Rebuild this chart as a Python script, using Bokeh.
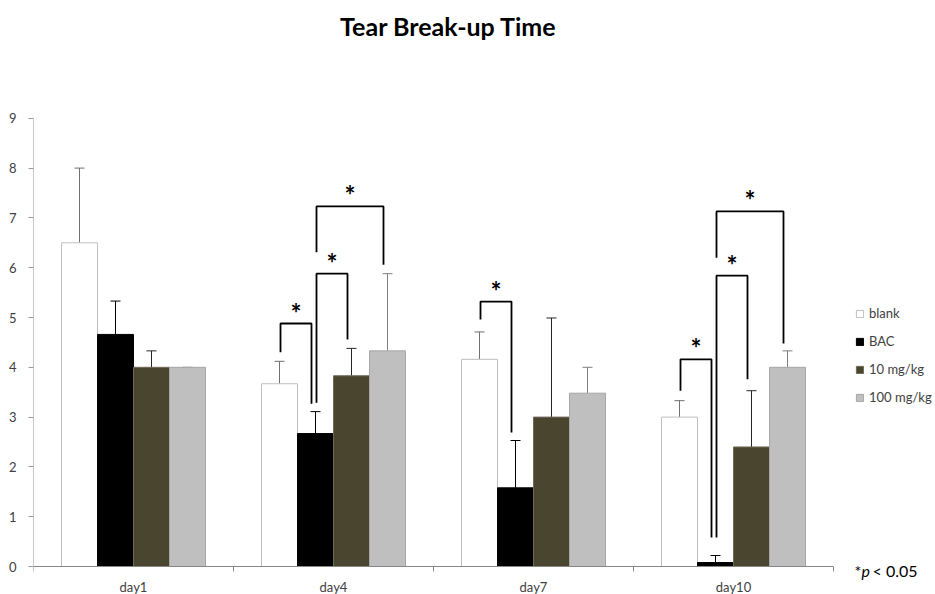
from bokeh.plotting import figure
from bokeh.models import ColumnDataSource, Whisker, TeeHead, Legend, LegendItem, FixedTicker, Label
from bokeh.core.properties import value
from bokeh.embed import file_html
from bokeh.resources import INLINE

days = ["day1", "day4", "day7", "day10"]
series = ["blank", "BAC", "10 mg/kg", "100 mg/kg"]
means = {
    "blank":     [6.50, 3.67, 4.16, 3.00],
    "BAC":       [4.66, 2.67, 1.58, 0.08],
    "10 mg/kg":  [4.00, 3.83, 3.00, 2.40],
    "100 mg/kg": [4.00, 4.33, 3.48, 4.00],
}
err_top = {
    "blank":     [8.00, 4.12, 4.71, 3.33],
    "BAC":       [5.33, 3.11, 2.53, 0.22],
    "10 mg/kg":  [4.33, 4.38, 4.99, 3.53],
    "100 mg/kg": [4.00, 5.88, 4.00, 4.33],
}
# significance brackets: (day index, left bar, right bar, top, left foot, right foot)
brackets = [
    (1, 0, 1, 4.88, 4.30, 3.27),
    (1, 1, 2, 5.88, 3.29, 4.56),
    (1, 1, 3, 7.23, 6.31, 6.06),
    (2, 0, 1, 5.32, 4.96, 2.69),
    (3, 0, 1, 4.16, 3.53, 0.58),
    (3, 1, 2, 5.84, 0.58, 3.76),
    (3, 1, 3, 7.13, 6.20, 4.48),
]
y_ticks = list(range(10))

fills = ["#ffffff", "#000000", "#4a452e", "#bfbfbf"]
outlines = ["#bfbfbf", "#000000", "#6f6a58", "#a6a6a6"]
errc = ["#6f6f6f", "#000000", "#262626", "#7f7f7f"]
bar_w = 0.18
offsets = [-0.27, -0.09, 0.09, 0.27]
FONT = "Lato"

# layout: frame fills the figure (except left axis border); scales chosen to match reference
W, H, LEFT = 934, 594, 33
PX_X, PX_Y = 200.0, 49.8          # pixels per data unit
BELOW0 = 28                        # pixels of frame below y = 0
x_end = (W - LEFT) / PX_X
y_start = -BELOW0 / PX_Y
y_end = (H - BELOW0) / PX_Y

p = figure(width=W, height=H, x_range=(0, x_end), y_range=(y_start, y_end),
           output_backend="svg", toolbar_location=None,
           min_border_left=LEFT, min_border_top=0, min_border_bottom=0,
           min_border_right=0)
p.outline_line_color = None
p.xgrid.visible = False
p.ygrid.visible = False

items = []
for i, s in enumerate(series):
    xs = [g + 0.5 + offsets[i] for g in range(len(days))]
    src = ColumnDataSource(dict(x=xs, top=means[s], up=err_top[s]))
    r = p.vbar(x="x", top="top", width=bar_w, source=src,
               fill_color=fills[i], line_color=outlines[i], line_width=1)
    w = Whisker(base="x", lower="top", upper="up", source=src, dimension="height",
                line_color=errc[i], line_width=1,
                lower_head=None,
                upper_head=TeeHead(size=10, line_color=errc[i], line_width=1))
    p.add_layout(w)
    items.append(LegendItem(label=s, renderers=[r]))

bxs, bys, sx, sy = [], [], [], []
for (g, a, b, top, lf, rf) in brackets:
    xl = g + 0.5 + offsets[a] + 0.005
    xr = g + 0.5 + offsets[b] - 0.02
    bxs.append([xl, xl, xr, xr])
    bys.append([lf, top, top, rf])
    sx.append((xl + xr) / 2)
    sy.append(top + 0.22)
p.multi_line(xs=bxs, ys=bys, line_color="#000000", line_width=1.8)
p.text(x=sx, y=sy, text=["*"] * len(sx), text_align="center", text_baseline="alphabetic",
       text_font=value(FONT), text_font_style="bold", text_font_size="26px", text_color="#000000")

# axes
xa = p.xaxis[0]
xa.fixed_location = 0
xa.bounds = (0, len(days))
xa.ticker = FixedTicker(ticks=[g + 0.5 for g in range(len(days))],
                        minor_ticks=list(range(len(days) + 1)))
xa.major_label_overrides = {g + 0.5: d for g, d in enumerate(days)}
xa.major_tick_out = 0
xa.major_tick_in = 0
xa.minor_tick_out = 5
xa.minor_tick_in = 0
xa.minor_tick_line_color = "#868686"
xa.axis_line_color = "#868686"
xa.major_label_standoff = 7
xa.major_label_text_font = FONT
xa.major_label_text_font_size = "13px"
xa.major_label_text_color = "#404040"

ya = p.yaxis[0]
ya.bounds = (y_ticks[0], y_ticks[-1])
ya.ticker = FixedTicker(ticks=y_ticks)
ya.axis_line_color = "#c8c8c8"
ya.major_tick_line_color = "#9a9a9a"
ya.major_tick_out = 5
ya.major_tick_in = 0
ya.minor_tick_line_color = None
ya.major_label_standoff = 12
ya.major_label_text_font = FONT
ya.major_label_text_font_size = "13px"
ya.major_label_text_color = "#404040"

legend = Legend(items=items, location=(822, 189), orientation="vertical",
                border_line_color=None, background_fill_alpha=0,
                glyph_width=9, glyph_height=9, label_height=14, spacing=12,
                padding=0, margin=0, label_standoff=5,
                label_text_font=FONT, label_text_font_size="13px", label_text_color="#404040")
p.add_layout(legend, "center")

p.add_layout(Label(x=2.075, y=10.86, text="Tear Break-up Time", text_align="center",
                   text_baseline="alphabetic", text_font=FONT, text_font_style="bold",
                   text_font_size="25px", text_color="#000000"))
p.add_layout(Label(x=4.105, y=-0.09, text="*", text_font=FONT, text_font_size="16px",
                   text_color="#000000", text_baseline="alphabetic"))
p.add_layout(Label(x=4.14, y=-0.09, text="p", text_font=FONT, text_font_style="italic",
                   text_font_size="16px", text_color="#000000", text_baseline="alphabetic"))
p.add_layout(Label(x=4.195, y=-0.09, text="< 0.05", text_font=FONT, text_font_size="16px",
                   text_color="#000000", text_baseline="alphabetic"))

open("out.html", "w").write(file_html(p, INLINE))
